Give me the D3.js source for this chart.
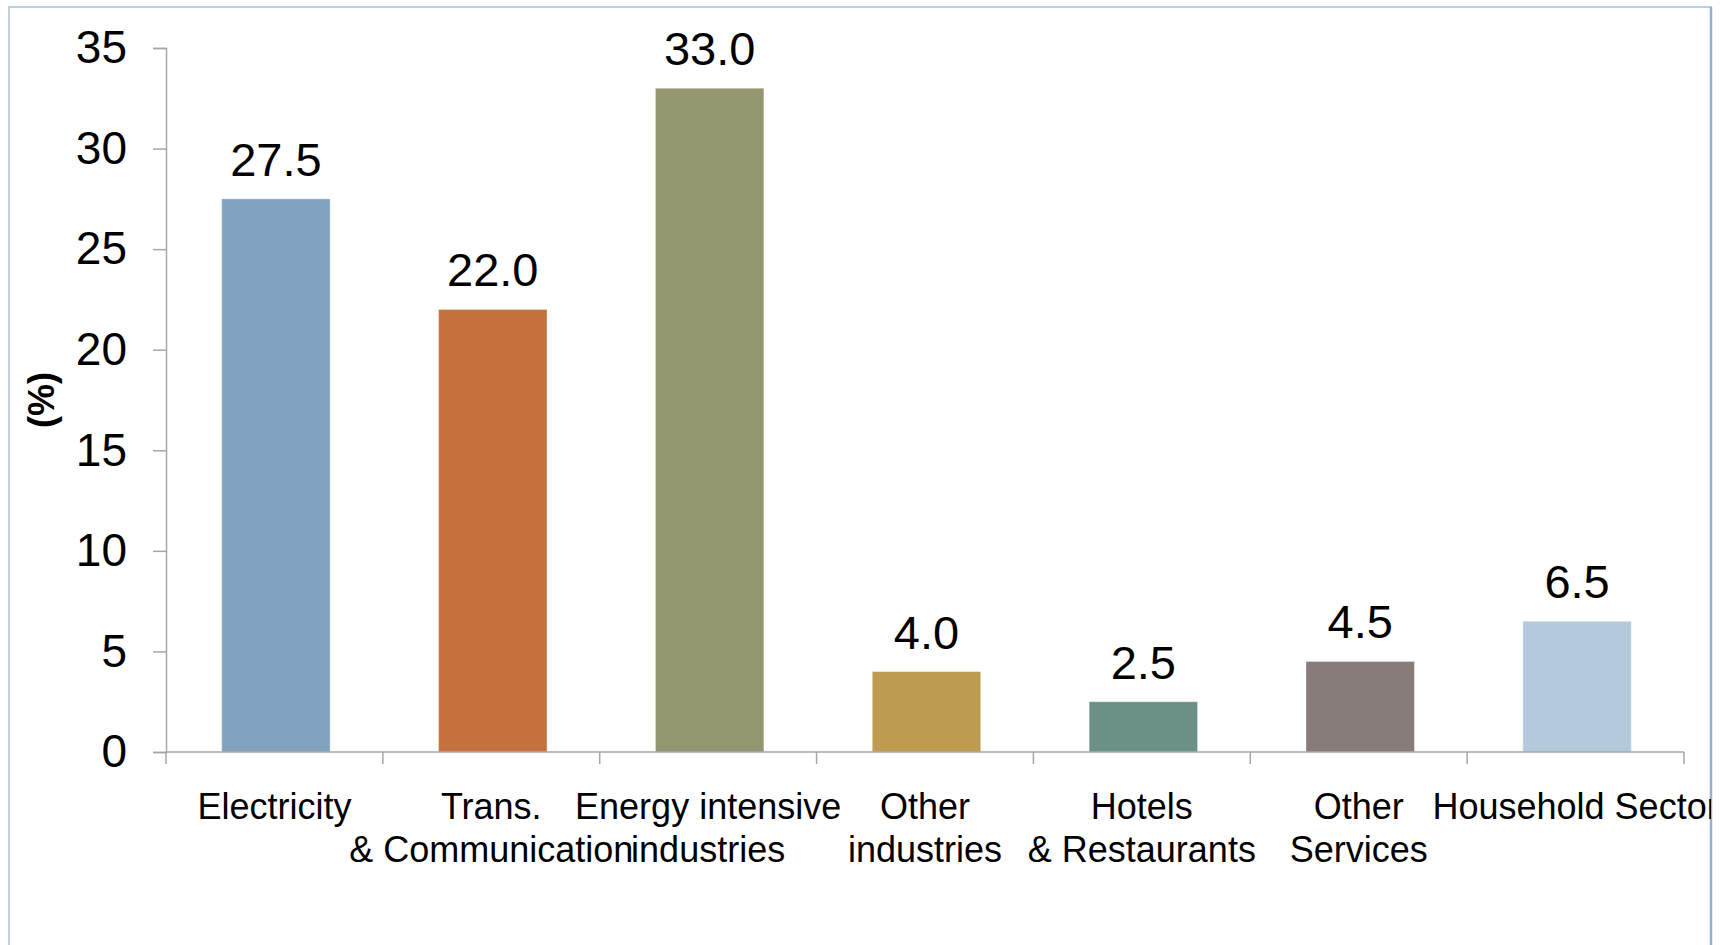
<!DOCTYPE html>
<html>
<head>
<meta charset="utf-8">
<script src="https://cdn.jsdelivr.net/npm/d3@7"></script>
<style>
  html, body { margin: 0; padding: 0; background: #ffffff; }
  svg { display: block; }
  text { font-family: "Liberation Sans", Arial, sans-serif; fill: #000; }
</style>
</head>
<body>
<svg id="chart" width="1731" height="945"></svg>
<script>
// Share of energy use by sector (%)
const categories = [
  "Electricity",
  "Trans.\n& Communication",
  "Energy intensive\nindustries",
  "Other\nindustries",
  "Hotels\n& Restaurants",
  "Other\nServices",
  "Household Sector"
];
const values = [27.5, 22.0, 33.0, 4.0, 2.5, 4.5, 6.5];
const barColors = ["#81a2bc", "#c4713e", "#93966e", "#be9b50", "#6a9088", "#877c7a", "#b3cade"];
const yTicks = [0, 5, 10, 15, 20, 25, 30, 35];
const yTitle = "(%)";

const svg = d3.select("#chart");

// chart frame
const frame = { x: 9, y: 7, w: 1702, h: 1000 };
svg.append("defs").append("clipPath").attr("id", "frameClip")
  .append("rect").attr("x", frame.x).attr("y", frame.y).attr("width", frame.w).attr("height", frame.h);

svg.append("rect")
  .attr("x", frame.x).attr("y", frame.y).attr("width", frame.w).attr("height", frame.h)
  .attr("fill", "#ffffff").attr("stroke", "#a9c0d9").attr("stroke-width", 1.5);
// heavier right edge
svg.append("line")
  .attr("x1", frame.x + frame.w).attr("x2", frame.x + frame.w)
  .attr("y1", frame.y).attr("y2", frame.y + frame.h)
  .attr("stroke", "#93b0cd").attr("stroke-width", 2.5);

const g = svg.append("g").attr("clip-path", "url(#frameClip)");

// plot extent along x
const plotLeft = 166, plotRight = 1684;

const x = d3.scaleBand()
  .domain(categories)
  .range([plotLeft + 1.5, plotRight + 1.5])
  .paddingInner(0.5)
  .paddingOuter(0.25);

const xAxisScale = d3.scaleBand().domain(categories).range([plotLeft, plotRight]);

const y = d3.scaleLinear().domain([0, 35]).range([752, 48]);

// bars
g.selectAll("rect.bar")
  .data(values)
  .join("rect")
  .attr("class", "bar")
  .attr("x", (d, i) => x(categories[i]))
  .attr("width", x.bandwidth())
  .attr("y", d => y(d))
  .attr("height", d => y(0) - y(d))
  .attr("fill", (d, i) => barColors[i])
  .attr("stroke", "#ffffff")
  .attr("stroke-opacity", 0.35)
  .attr("stroke-width", 1);

// value labels
g.selectAll("text.val")
  .data(values)
  .join("text")
  .attr("class", "val")
  .attr("x", (d, i) => x(categories[i]) + x.bandwidth() / 2)
  .attr("y", d => y(d) - 23)
  .attr("text-anchor", "middle")
  .style("font-size", "47px")
  .text(d => d.toFixed(1));

const axisColor = "#a6a6a6";

// y axis
const yAxis = g.append("g")
  .attr("transform", `translate(${plotLeft},0)`)
  .call(d3.axisLeft(y).tickValues(yTicks).tickSize(13).tickPadding(26).tickFormat(d3.format("d")));
yAxis.select(".domain").attr("stroke", axisColor).attr("stroke-width", 1.5);
yAxis.selectAll(".tick line").attr("stroke", axisColor).attr("stroke-width", 1.5);
yAxis.selectAll(".tick text")
  .style("font-size", "46px")
  .style("font-family", "'Liberation Sans', Arial, sans-serif")
  .attr("fill", "#000");

// x axis: ticks between categories
const xAxis = g.append("g").attr("transform", `translate(0,${y(0)})`);
xAxis.append("line")
  .attr("x1", plotLeft).attr("x2", plotRight)
  .attr("stroke", axisColor).attr("stroke-width", 1.5);
const boundaries = categories.map(c => xAxisScale(c)).concat([plotRight]);
xAxis.selectAll("line.tk")
  .data(boundaries)
  .join("line")
  .attr("class", "tk")
  .attr("x1", d => d).attr("x2", d => d)
  .attr("y1", 0).attr("y2", 12)
  .attr("stroke", axisColor).attr("stroke-width", 1.5);

// category labels
const labels = g.selectAll("text.cat")
  .data(categories)
  .join("text")
  .attr("class", "cat")
  .attr("text-anchor", "middle")
  .style("font-size", "36px");
labels.each(function (c) {
  const cx = xAxisScale(c) + xAxisScale.bandwidth() / 2;
  d3.select(this).selectAll("tspan")
    .data(c.split("\n"))
    .join("tspan")
    .attr("x", cx)
    .attr("y", (d, i) => 819 + i * 43)
    .text(d => d);
});

// y axis title
svg.append("text")
  .attr("transform", "translate(54,400) rotate(-90)")
  .attr("text-anchor", "middle")
  .style("font-size", "36px")
  .style("font-weight", "bold")
  .text(yTitle);
</script>
</body>
</html>
